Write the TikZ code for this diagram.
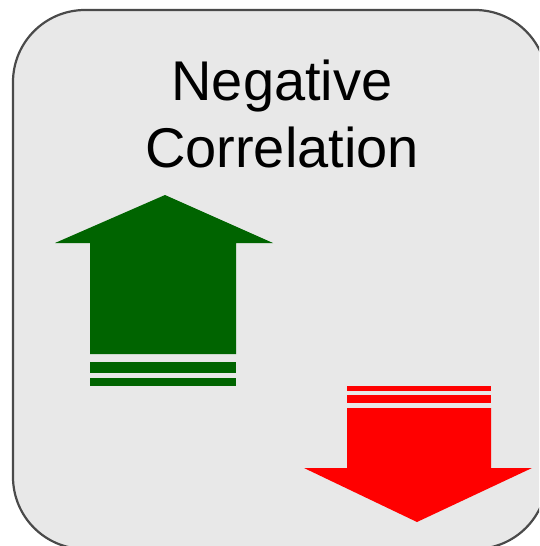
\documentclass[tikz,border=0pt]{standalone}
\usepackage{fontspec}
\setmainfont{Liberation Sans}
\definecolor{bg}{HTML}{E8E8E8}
\definecolor{frame}{HTML}{4A4A4A}
\definecolor{upgreen}{HTML}{006400}
\definecolor{downred}{HTML}{FF0000}
\begin{document}
\begin{tikzpicture}[x=1pt,y=-1pt,
  titletext/.style={anchor=base,inner sep=0pt,font=\fontsize{56}{66}\selectfont},
  upfill/.style={fill=upgreen},
  downfill/.style={fill=downred}]
\useasboundingbox (0,0) rectangle (539,546);
\fill[white] (0,0) rectangle (539,546);
\begin{scope}
\clip (0,0) rectangle (539,546);
\draw[frame,line width=2.2pt,fill=bg,rounded corners=72pt] (13,10) rectangle (547,549);
\end{scope}
\node[titletext] (t1) at (282,100) {Negative};
\node[titletext] (t2) at (282,167) {Correlation};
% green up arrow
\fill[upfill] (165,195) -- (273,243) -- (236,243) -- (236,354) -- (90,354) -- (90,243) -- (55,243) -- cycle;
\fill[upfill] (90,362) rectangle (236,373);
\fill[upfill] (90,378) rectangle (236,386);
% red down arrow
\fill[downfill] (347,386) rectangle (491,391);
\fill[downfill] (347,395) rectangle (491,403);
\fill[downfill] (347,408) -- (491,408) -- (491,468) -- (532,468) -- (417,522) -- (304,468) -- (347,468) -- cycle;
\end{tikzpicture}
\end{document}
